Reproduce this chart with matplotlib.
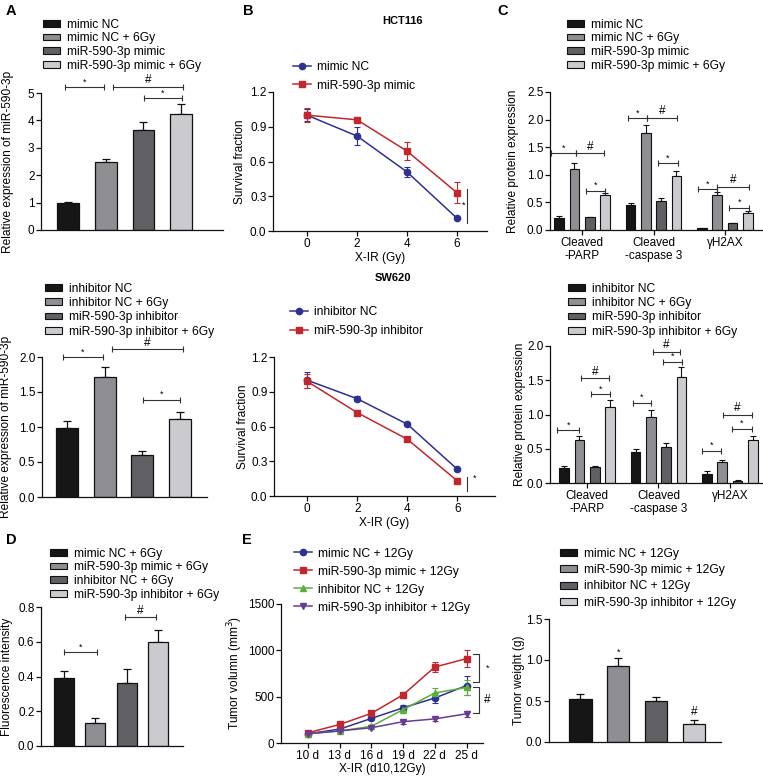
import matplotlib
matplotlib.use('Agg')
import matplotlib.pyplot as plt
import matplotlib.transforms as mtransforms
from matplotlib.patches import Patch
from matplotlib.lines import Line2D
import numpy as np

plt.rcParams['font.family'] = ['Liberation Sans', 'DejaVu Sans']
plt.rcParams['font.size'] = 8

# ---------------- data ----------------
bar_colors = ['#161616', '#8e8e93', '#5f5f64', '#cbcbcf']

# A (top) - mimic
a1_labels = ['mimic NC', 'mimic NC + 6Gy', 'miR-590-3p mimic', 'miR-590-3p mimic + 6Gy']
a1_vals = [0.97, 2.50, 3.65, 4.25]
a1_err = [0.05, 0.10, 0.28, 0.35]

# A (bottom) - inhibitor
a2_labels = ['inhibitor NC', 'inhibitor NC + 6Gy', 'miR-590-3p inhibitor', 'miR-590-3p inhibitor + 6Gy']
a2_vals = [0.98, 1.71, 0.60, 1.11]
a2_err = [0.10, 0.15, 0.06, 0.11]

# B - survival
dose = [0, 2, 4, 6]
b1_labels = ['mimic NC', 'miR-590-3p mimic']
b1_nc = [1.00, 0.82, 0.51, 0.11]
b1_nc_err = [0.05, 0.08, 0.04, 0.01]
b1_mi = [1.00, 0.96, 0.69, 0.33]
b1_mi_err = [0.06, 0.02, 0.08, 0.09]

b2_labels = ['inhibitor NC', 'miR-590-3p inhibitor']
b2_nc = [1.00, 0.84, 0.62, 0.23]
b2_nc_err = [0.07, 0.02, 0.01, 0.01]
b2_in = [0.99, 0.72, 0.49, 0.13]
b2_in_err = [0.06, 0.02, 0.01, 0.01]

# C - protein expression
proteins = ['Cleaved\n-PARP', 'Cleaved\n-caspase 3', 'γH2AX']
c1_vals = [[0.22, 0.45, 0.03],
           [1.11, 1.75, 0.63],
           [0.23, 0.53, 0.12],
           [0.63, 0.97, 0.31]]
c1_err = [[0.03, 0.04, 0.01],
          [0.10, 0.15, 0.05],
          [0.01, 0.05, 0.01],
          [0.04, 0.09, 0.04]]
c2_vals = [[0.22, 0.45, 0.13],
           [0.63, 0.97, 0.31],
           [0.23, 0.53, 0.03],
           [1.11, 1.55, 0.63]]
c2_err = [[0.03, 0.05, 0.04],
          [0.05, 0.09, 0.03],
          [0.02, 0.05, 0.01],
          [0.10, 0.15, 0.06]]

# D - fluorescence
d_labels = ['mimic NC + 6Gy', 'miR-590-3p mimic + 6Gy', 'inhibitor NC + 6Gy', 'miR-590-3p inhibitor + 6Gy']
d_vals = [0.39, 0.13, 0.36, 0.60]
d_err = [0.04, 0.03, 0.085, 0.065]

# E - tumor volume
days = ['10 d', '13 d', '16 d', '19 d', '22 d', '25 d']
e_labels = ['mimic NC + 12Gy', 'miR-590-3p mimic + 12Gy', 'inhibitor NC + 12Gy', 'miR-590-3p inhibitor + 12Gy']
e_mimic_nc = [100, 150, 265, 380, 485, 620]
e_mimic_nc_err = [10, 15, 20, 30, 50, 100]
e_mimic = [110, 200, 320, 520, 820, 910]
e_mimic_err = [10, 15, 20, 30, 50, 90]
e_inh_nc = [100, 130, 180, 360, 540, 600]
e_inh_nc_err = [10, 10, 15, 20, 50, 80]
e_inh = [100, 130, 165, 230, 260, 315]
e_inh_err = [10, 10, 15, 20, 25, 30]

# F - tumor weight
f_vals = [0.53, 0.93, 0.50, 0.22]
f_err = [0.06, 0.09, 0.05, 0.05]

blue = '#2e3192'
red = '#c1272d'
green = '#5aaf3c'
purple = '#6a3b93'
ink = '#111111'

LEG_FS = 8.7
LAB_FS = 8.6

# ---------------- helpers ----------------
W, H = 763, 779
fig = plt.figure(figsize=(W / 100, H / 100), dpi=100)


def box(l, t, r, b):
    return [l / W, 1 - b / H, (r - l) / W, (b - t) / H]


def style(ax, xticks=True):
    for s in ['top', 'right']:
        ax.spines[s].set_visible(False)
    for s in ['left', 'bottom']:
        ax.spines[s].set_linewidth(0.9)
        ax.spines[s].set_color(ink)
    ax.tick_params(width=0.9, length=3.5, labelsize=8.5, pad=1.2, color=ink)
    if not xticks:
        ax.set_xticks([])


def ylab(ax, text, xr):
    ax.set_ylabel(text, fontsize=LAB_FS)
    tr = mtransforms.blended_transform_factory(fig.transFigure, ax.transAxes)
    ax.yaxis.set_label_coords(xr / W, 0.5, transform=tr)


def xlab(ax, text, yt):
    ax.set_xlabel(text, fontsize=LAB_FS)
    tr = mtransforms.blended_transform_factory(ax.transAxes, fig.transFigure)
    ax.xaxis.set_label_coords(0.5, 1 - yt / H, transform=tr)


def bar_legend(ax, labels, x, y, spacing):
    handles = [Patch(facecolor=c, edgecolor=ink, linewidth=0.8) for c in bar_colors]
    ax.legend(handles, labels, loc='upper left', bbox_to_anchor=(x / W, 1 - y / H),
              bbox_transform=fig.transFigure, frameon=False, fontsize=LEG_FS,
              borderpad=0, borderaxespad=0, handlelength=1.4, handleheight=0.5,
              handletextpad=0.6, labelspacing=spacing)


def line_legend(ax, handles, labels, x, y, spacing):
    ax.legend(handles, labels, loc='upper left', bbox_to_anchor=(x / W, 1 - y / H),
              bbox_transform=fig.transFigure, frameon=False, fontsize=LEG_FS,
              borderpad=0, borderaxespad=0, handlelength=1.5,
              handletextpad=0.5, labelspacing=spacing)


def bracket(ax, x1, x2, y, txt):
    ax.plot([x1, x2], [y, y], color='#333333', lw=0.8, clip_on=False)
    ax.plot([x1, x2], [y, y], ls='none', marker='|', ms=5, mew=0.8, color='#333333', clip_on=False)
    fs = 6.5 if txt == '*' else 8.5
    ax.annotate(txt, xy=((x1 + x2) / 2, y), xytext=(0, 0.5), textcoords='offset points',
                ha='center', va='bottom', fontsize=fs, annotation_clip=False)


def simple_bars(ax, vals, errs, width):
    x = np.arange(len(vals))
    ax.bar(x, vals, width, color=bar_colors, edgecolor=ink, linewidth=0.9, zorder=2)
    ax.errorbar(x, vals, yerr=[np.zeros(len(vals)), errs], fmt='none', ecolor=ink,
                elinewidth=0.9, capsize=3, capthick=0.9, zorder=1)


def group_bars(ax, vals, errs):
    g = np.arange(len(proteins))
    offs = [-1.5, -0.5, 0.5, 1.5]
    for i in range(4):
        xs = g + offs[i] * 0.214
        ax.bar(xs, vals[i], 0.133, color=bar_colors[i], edgecolor=ink, linewidth=0.8, zorder=2)
        ax.errorbar(xs, vals[i], yerr=[np.zeros(3), errs[i]], fmt='none', ecolor=ink,
                    elinewidth=0.8, capsize=2, capthick=0.8, zorder=1)
    ax.set_xticks(g)
    ax.set_xticklabels(proteins, va='top', fontsize=8.7)


def panel_label(x, y, s):
    fig.text(x / W, 1 - y / H, s, fontsize=10.5, fontweight='bold', ha='left', va='center')


def survival(ax, y1, e1, y2, e2):
    ax.errorbar(dose, y1, yerr=e1, color=blue, marker='o', ms=4.5, lw=1.1,
                elinewidth=0.8, capsize=2.5, capthick=0.8)
    ax.errorbar(dose, y2, yerr=e2, color=red, marker='s', ms=4.5, lw=1.1,
                elinewidth=0.8, capsize=2.5, capthick=0.8)
    ax.set_ylim(0, 1.2)
    ax.set_yticks([0, 0.3, 0.6, 0.9, 1.2])
    ax.set_yticklabels(['0.0', '0.3', '0.6', '0.9', '1.2'])
    ax.set_xticks(dose)
    return [Line2D([], [], color=blue, marker='o', ms=4.5, lw=1.1),
            Line2D([], [], color=red, marker='s', ms=4.5, lw=1.1)]


# ---------------- A top ----------------
ax = fig.add_axes(box(41, 93, 223, 230))
simple_bars(ax, a1_vals, a1_err, 0.58)
ax.set_xlim(-0.72, 4.11)
ax.set_ylim(0, 5)
ax.set_yticks([0, 1, 2, 3, 4, 5])
style(ax, xticks=False)
ylab(ax, 'Relative expression of miR-590-3p', 14)
bar_legend(ax, a1_labels, 43, 18.5, 0.15)
bracket(ax, -0.08, 0.95, 5.22, '*')
bracket(ax, 1.19, 3.05, 5.22, '#')
bracket(ax, 2.02, 3.02, 4.82, '*')
panel_label(6, 11, 'A')

# ---------------- A bottom ----------------
ax = fig.add_axes(box(42, 357, 207, 497))
simple_bars(ax, a2_vals, a2_err, 0.58)
ax.set_xlim(-0.66, 3.71)
ax.set_ylim(0, 2)
ax.set_yticks([0, 0.5, 1.0, 1.5, 2.0])
ax.set_yticklabels(['0.0', '0.5', '1.0', '1.5', '2.0'])
style(ax, xticks=False)
ylab(ax, 'Relative expression of miR-590-3p', 12)
bar_legend(ax, a2_labels, 45, 282.5, 0.2)
bracket(ax, -0.1, 0.95, 2.0, '*')
bracket(ax, 1.19, 3.08, 2.11, '#')
bracket(ax, 2.02, 3.0, 1.39, '*')

# ---------------- B top ----------------
ax = fig.add_axes(box(273, 92, 487, 231))
h = survival(ax, b1_nc, b1_nc_err, b1_mi, b1_mi_err)
ax.set_xlim(-1.36, 7.2)
style(ax)
ylab(ax, 'Survival fraction', 246)
xlab(ax, 'X-IR (Gy)', 252)
line_legend(ax, h, b1_labels, 293, 61.5, 0.5)
ax.plot([6.4, 6.4], [0.07, 0.36], color='#333333', lw=0.8)
ax.text(6.28, 0.22, '*', fontsize=6.5, ha='center', va='center')
fig.text(403 / W, 1 - 21 / H, 'HCT116', fontsize=8, fontweight='bold', ha='center', va='center')
panel_label(243, 11, 'B')

# ---------------- B bottom ----------------
ax = fig.add_axes(box(274, 357, 495, 496))
h = survival(ax, b2_nc, b2_nc_err, b2_in, b2_in_err)
ax.set_xlim(-1.32, 7.5)
style(ax)
ylab(ax, 'Survival fraction', 249)
xlab(ax, 'X-IR (Gy)', 517)
line_legend(ax, h, b2_labels, 290, 306.5, 0.55)
ax.plot([6.4, 6.4], [0.04, 0.16], color='#333333', lw=0.8)
ax.text(6.68, 0.15, '*', fontsize=6.5, ha='center', va='center')
fig.text(393 / W, 1 - 278 / H, 'SW620', fontsize=8, fontweight='bold', ha='center', va='center')

# ---------------- C top ----------------
ax = fig.add_axes(box(550, 92, 762, 230))
group_bars(ax, c1_vals, c1_err)
ax.set_xlim(-0.45, 2.52)
ax.set_ylim(0, 2.5)
ax.set_yticks([0, 0.5, 1.0, 1.5, 2.0, 2.5])
ax.set_yticklabels(['0.0', '0.5', '1.0', '1.5', '2.0', '2.5'])
style(ax)
ylab(ax, 'Relative protein expression', 519)
bar_legend(ax, a1_labels, 567, 18.5, 0.15)
bracket(ax, -0.43, -0.08, 1.39, '*')
bracket(ax, -0.08, 0.31, 1.39, '#')
bracket(ax, 0.06, 0.32, 0.71, '*')
bracket(ax, 0.64, 0.91, 2.03, '*')
bracket(ax, 0.91, 1.33, 2.03, '#')
bracket(ax, 1.06, 1.34, 1.21, '*')
bracket(ax, 1.62, 1.89, 0.74, '*')
bracket(ax, 1.89, 2.34, 0.78, '#')
bracket(ax, 2.06, 2.34, 0.40, '*')
panel_label(497, 11, 'C')

# ---------------- C bottom ----------------
ax = fig.add_axes(box(550, 346, 762, 483))
group_bars(ax, c2_vals, c2_err)
ax.set_xlim(-0.52, 2.45)
ax.set_ylim(0, 2)
ax.set_yticks([0, 0.5, 1.0, 1.5, 2.0])
ax.set_yticklabels(['0.0', '0.5', '1.0', '1.5', '2.0'])
style(ax)
ylab(ax, 'Relative protein expression', 526)
bar_legend(ax, a2_labels, 568, 282.5, 0.2)
bracket(ax, -0.42, -0.11, 0.77, '*')
bracket(ax, -0.08, 0.31, 1.53, '#')
bracket(ax, 0.06, 0.32, 1.30, '*')
bracket(ax, 0.64, 0.90, 1.17, '*')
bracket(ax, 0.92, 1.30, 1.91, '#')
bracket(ax, 1.06, 1.33, 1.77, '*')
bracket(ax, 1.61, 1.87, 0.47, '*')
bracket(ax, 1.90, 2.31, 0.99, '#')
bracket(ax, 2.03, 2.31, 0.79, '*')

# ---------------- D ----------------
ax = fig.add_axes(box(41, 607, 183, 746))
simple_bars(ax, d_vals, d_err, 0.64)
ax.set_xlim(-0.73, 3.8)
ax.set_ylim(0, 0.8)
ax.set_yticks([0, 0.2, 0.4, 0.6, 0.8])
ax.set_yticklabels(['0.0', '0.2', '0.4', '0.6', '0.8'])
style(ax, xticks=False)
ylab(ax, 'Fluorescence intensity', 13)
bar_legend(ax, d_labels, 50, 547.5, 0.15)
bracket(ax, 0.0, 1.05, 0.54, '*')
bracket(ax, 1.95, 2.94, 0.74, '#')
panel_label(6, 540, 'D')

# ---------------- E ----------------
ax = fig.add_axes(box(281, 604, 483, 743))
xe = np.arange(len(days))
series = [(e_mimic_nc, e_mimic_nc_err, blue, 'o'),
          (e_mimic, e_mimic_err, red, 's'),
          (e_inh_nc, e_inh_nc_err, green, '^'),
          (e_inh, e_inh_err, purple, 'v')]
handles = []
for vals, errs, col, mk in series:
    ax.errorbar(xe, vals, yerr=errs, color=col, marker=mk, ms=4.5, lw=1.1,
                elinewidth=0.8, capsize=2.5, capthick=0.8)
    handles.append(Line2D([], [], color=col, marker=mk, ms=4.5, lw=1.1))
ax.set_xticks(xe)
ax.set_xticklabels(days)
ax.set_xlim(-0.85, 5.52)
ax.set_ylim(0, 1500)
ax.set_yticks([0, 500, 1000, 1500])
style(ax)
ylab(ax, 'Tumor volumn (mm$^3$)', 245)
xlab(ax, 'X-IR (d10,12Gy)', 763)
line_legend(ax, handles, e_labels, 294, 547.5, 0.5)
for y1, y2, t in [(658, 960, '*'), (324, 604, '#')]:
    ax.plot([5.2, 5.39, 5.39, 5.2], [y1, y1, y2, y2], color='#333333', lw=0.8, clip_on=False)
    ax.text(5.65, (y1 + y2) / 2, t, fontsize=6.5 if t == '*' else 8.5,
            ha='center', va='center', clip_on=False)
panel_label(242, 540, 'E')

# ---------------- F ----------------
ax = fig.add_axes(box(549, 619, 721, 742))
simple_bars(ax, f_vals, f_err, 0.6)
ax.set_xlim(-0.82, 3.71)
ax.set_ylim(0, 1.5)
ax.set_yticks([0, 0.5, 1.0, 1.5])
ax.set_yticklabels(['0.0', '0.5', '1.0', '1.5'])
style(ax, xticks=False)
ylab(ax, 'Tumor weight (g)', 525)
bar_legend(ax, e_labels, 560, 547.5, 0.37)
ax.annotate('*', xy=(1, f_vals[1] + f_err[1]), xytext=(0, 1), textcoords='offset points',
            ha='center', va='bottom', fontsize=6.5)
ax.annotate('#', xy=(3, f_vals[3] + f_err[3]), xytext=(0, 1), textcoords='offset points',
            ha='center', va='bottom', fontsize=8.5)

fig.savefig('out.png', dpi=100)
